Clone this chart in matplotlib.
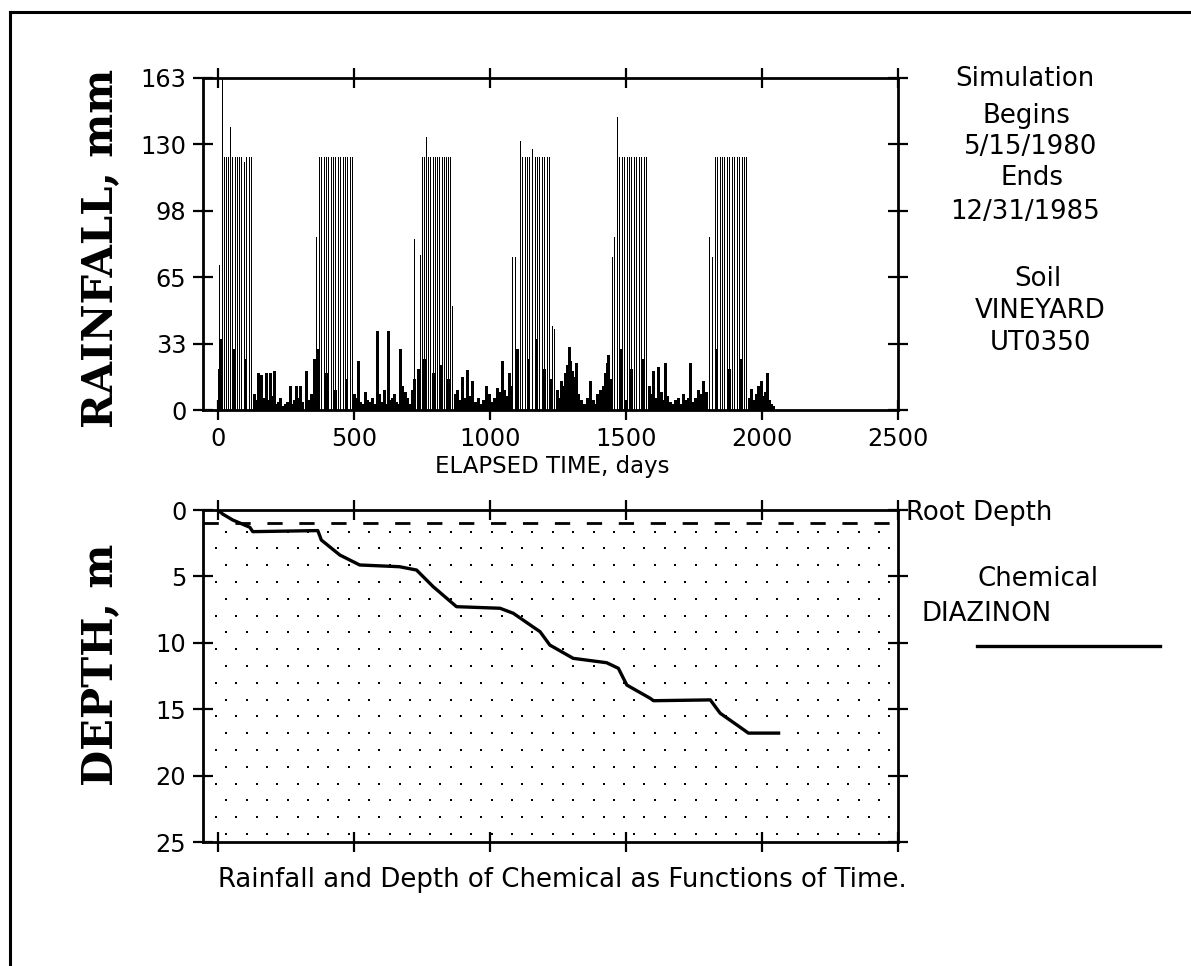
import numpy as np
import matplotlib
matplotlib.use("Agg")
import matplotlib.pyplot as plt
from matplotlib import font_manager
from matplotlib.lines import Line2D

# ---- values ----
# big irrigation-like events (mm), clustered each season
irr_days = [5, 15, 22, 30, 38, 46, 53, 61, 69, 77, 86, 95, 104, 113, 122,
            360, 371, 380, 388, 397, 405, 414, 422, 431, 440, 449, 458, 467, 476, 485, 494,
            722, 742, 750, 758, 764, 771, 779, 789, 797, 805, 813, 822, 830, 838, 846, 854, 862,
            1082, 1093, 1110, 1118, 1127, 1136, 1145, 1155, 1164, 1173, 1182, 1191, 1200, 1209, 1216, 1227, 1234,
            1448, 1457, 1466, 1475, 1484, 1493, 1502, 1511, 1520, 1529, 1538, 1547, 1556, 1565, 1573,
            1805, 1815, 1826, 1835, 1844, 1853, 1862, 1871, 1880, 1889, 1898, 1907, 1916, 1925, 1934, 1943]
irr_mm = [71, 163, 124, 124, 124, 139, 124, 124, 124, 124, 124, 122, 124, 124, 124,
          85, 124, 124, 124, 124, 124, 124, 124, 124, 124, 124, 124, 124, 124, 124, 124,
          84, 76, 124, 124, 134, 124, 124, 124, 124, 124, 124, 124, 124, 124, 124, 124, 51,
          75, 75, 132, 124, 124, 124, 124, 128, 124, 124, 124, 124, 124, 124, 124, 41, 40,
          75, 85, 144, 124, 124, 124, 124, 124, 124, 124, 124, 124, 124, 124, 124,
          85, 75, 124, 124, 124, 124, 124, 124, 124, 124, 124, 124, 124, 124, 124, 124]

# ordinary rainfall (mm)
rain_days = [3, 8, 12, 60, 100, 131, 140, 148, 155, 160, 168, 178, 185, 190, 198, 205, 212,
             220, 227, 236, 245, 255, 264, 272, 280, 288, 295, 300, 310, 322, 330, 343, 352, 358,
             366, 398, 430, 470, 500, 507, 514, 522, 530, 540, 548, 560, 568, 575, 583, 592,
             600, 610, 617, 624, 632, 640, 648, 655, 662, 670, 678, 686, 695, 705, 712, 720,
             735, 756, 790, 815, 845, 870, 880, 888, 897, 905, 916, 925, 934, 945, 955, 965,
             975, 985, 995, 1005, 1015, 1026, 1035, 1044, 1052, 1060, 1070, 1078,
             1100, 1140, 1170, 1200, 1222, 1245, 1255, 1262, 1270, 1276, 1282, 1289, 1295, 1300,
             1306, 1312, 1318, 1325, 1335, 1345, 1355, 1362, 1369, 1378, 1385, 1395, 1405, 1415,
             1422, 1429, 1435, 1440,
             1480, 1520, 1560, 1585, 1592, 1601, 1610, 1619, 1628, 1636, 1643, 1652, 1662, 1672,
             1682, 1692, 1700, 1710, 1718, 1727, 1735, 1745, 1755, 1765, 1775, 1784, 1795,
             1830, 1880, 1920, 1952, 1961, 1970, 1978, 1985, 1991, 1997, 2003, 2010, 2018, 2025,
             2032, 2040]
rain_mm = [20, 35, 12, 30, 25, 8, 5, 18, 4, 17, 6, 18, 5, 18, 7, 19, 3,
           4, 6, 2, 3, 4, 12, 3, 5, 12, 6, 12, 4, 19, 5, 8, 25, 12,
           30, 18, 10, 15, 8, 6, 24, 4, 3, 9, 5, 4, 6, 3, 39, 8,
           4, 10, 3, 39, 5, 6, 8, 4, 3, 30, 12, 9, 6, 3, 10, 15,
           20, 25, 18, 22, 15, 8, 10, 5, 16, 6, 19.5, 7, 14, 4, 6, 3,
           5, 12, 8, 4, 6, 11, 9, 24, 10, 7, 18, 12,
           30, 25, 35, 20, 15, 10, 6, 14, 12, 18, 22, 31, 24, 19,
           16, 10, 23, 8, 5, 3, 6, 4, 14, 5, 3, 8, 10, 12,
           18, 23, 27, 15,
           30, 20, 25, 12, 8, 19, 6, 21, 9, 5, 23, 7, 4, 3,
           5, 6, 3, 8, 5, 6, 23, 4, 6, 10, 8, 14, 9,
           30, 20, 25, 6, 10.5, 5, 8, 12, 6, 14, 7, 9, 18, 5,
           3, 2]

# depth of chemical (m) vs elapsed days
depth_days = [0, 17, 54, 117, 128, 367, 380, 448, 521, 667, 730, 791, 877, 1037, 1086,
              1158, 1184, 1220, 1306, 1429, 1472, 1503, 1589, 1601, 1810, 1846, 1908, 1950, 2061]
depth_m = [0, 0.3, 0.75, 1.3, 1.63, 1.55, 2.26, 3.39, 4.14, 4.27, 4.52, 5.77, 7.28, 7.4, 7.78,
           8.8, 9.16, 10.17, 11.17, 11.5, 11.92, 13.18, 14.18, 14.36, 14.3, 15.3, 16.19, 16.8, 16.8]
root_depth = 1.0

rain_ticks = ["0", "33", "65", "98", "130", "163"]
depth_ticks = [0, 5, 10, 15, 20, 25]
day_ticks = [0, 500, 1000, 1500, 2000, 2500]

assert len(irr_days) == len(irr_mm)
assert len(rain_days) == len(rain_mm)
assert len(depth_days) == len(depth_m)

# ---- fonts ----
have = {f.name for f in font_manager.fontManager.ttflist}
if "Liberation Sans Narrow" in have:
    txt_font, k = "Liberation Sans Narrow", 1.0
else:
    txt_font, k = "DejaVu Sans", 0.75
lab_font = "DejaVu Serif"   # slab-ish bold serif for the big side titles

W, H = 1191, 966
fig = plt.figure(figsize=(W / 100, H / 100), dpi=100)


def ftext(x, y, s, **kw):
    kw.setdefault("family", txt_font)
    kw.setdefault("ha", "center")
    kw.setdefault("va", "center")
    fig.text(x / W, 1 - y / H, s, **kw)


def style(ax):
    for sp in ax.spines.values():
        sp.set_linewidth(2)
    ax.tick_params(which="both", direction="inout", length=14, width=1.6,
                   top=True, right=True, labelsize=23 * k, pad=5)
    for lab in ax.get_xticklabels() + ax.get_yticklabels():
        lab.set_family(txt_font)


# ---- rainfall panel ----
ax1 = fig.add_axes([203 / W, 1 - 410 / H, 695 / W, 332 / H])
# crisp 1-px strokes keep the white gaps between daily bars
ax1.vlines(irr_days, 0, irr_mm, colors="black", lw=0.6, antialiased=False)
ax1.vlines(rain_days, 0, rain_mm, colors="black", lw=1.0, antialiased=False)
ax1.set_xlim(-55, 2500)
ax1.set_ylim(0, 163)
ax1.set_xticks(day_ticks)
ax1.set_yticks(np.linspace(0, 163, len(rain_ticks)))
ax1.set_yticklabels(rain_ticks)
style(ax1)

# ---- depth panel ----
ax2 = fig.add_axes([203 / W, 1 - 842 / H, 695 / W, 332 / H])
ax2.set_xlim(-55, 2500)
ax2.set_ylim(25, 0)
# soil stipple
for i, d in enumerate(np.arange(1.63, 25, 1.265)):
    xs = np.arange(31 if i % 2 == 0 else -7, 2490, 75)
    ax2.scatter(xs, np.full(len(xs), d), s=3.5, marker="s", color="black", lw=0, zorder=1)
ax2.axhline(root_depth, color="black", lw=2, dashes=(5.5, 6), zorder=2)
ax2.plot(depth_days, depth_m, color="black", lw=2.4, zorder=3)
ax2.set_xticks(day_ticks)
ax2.set_yticks(depth_ticks)
ax2.tick_params(labelbottom=False)
style(ax2)

# ---- axis titles ----
fig.text(100 / W, 1 - 248 / H, "RAINFALL, mm", rotation=90, family=lab_font,
         weight="bold", fontsize=30, ha="center", va="center")
fig.text(100 / W, 1 - 665 / H, "DEPTH, m", rotation=90, family=lab_font,
         weight="bold", fontsize=30, ha="center", va="center")
ftext(552, 466, "ELAPSED TIME, days", fontsize=22 * k)
ftext(562, 880, "Rainfall and Depth of Chemical as Functions of Time.", fontsize=25 * k)

# ---- right-hand notes ----
ftext(1025, 79, "Simulation", fontsize=25 * k)
ftext(1026, 116, "Begins", fontsize=25 * k)
ftext(1031, 147, "5/15/1980", fontsize=25 * k)
ftext(1032, 178, "Ends", fontsize=25 * k)
ftext(1025, 212, "12/31/1985", fontsize=25 * k)
ftext(1038, 279, "Soil", fontsize=25 * k)
ftext(1040, 311, "VINEYARD", fontsize=25 * k)
ftext(1040, 343, "UT0350", fontsize=25 * k)
ftext(906, 513, "Root Depth", fontsize=25 * k, ha="left")
ftext(1038, 579, "Chemical", fontsize=25 * k)
ftext(987, 614, "DIAZINON", fontsize=25 * k)
fig.add_artist(Line2D([977 / W, 1160 / W], [1 - 646 / H, 1 - 646 / H], color="black", lw=2.4))

# page frame (left and top edges of the scan)
fig.add_artist(Line2D([10 / W, 10 / W], [0, 1 - 12 / H], color="black", lw=2.2))
fig.add_artist(Line2D([10 / W, 1], [1 - 12 / H, 1 - 12 / H], color="black", lw=2.2))

fig.savefig("out.png", dpi=100)
